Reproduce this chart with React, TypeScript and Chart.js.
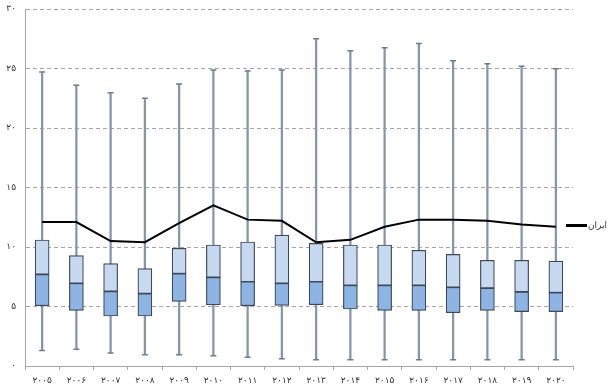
import React, { useEffect, useRef } from "react";
import { Chart, registerables } from "chart.js";

Chart.register(...registerables);

const years = ["2005","2006","2007","2008","2009","2010","2011","2012","2013","2014","2015","2016","2017","2018","2019","2020"];
const whiskerMin = [1.3,1.4,1.1,0.95,0.95,0.87,0.73,0.6,0.53,0.53,0.53,0.53,0.53,0.53,0.53,0.53];
const q1 = [5.07,4.68,4.2,4.2,5.43,5.13,5.07,5.1,5.15,4.79,4.68,4.68,4.48,4.68,4.57,4.57];
const median = [7.7,6.95,6.27,6.08,7.76,7.45,7.08,6.95,7.08,6.78,6.78,6.78,6.61,6.55,6.22,6.16];
const q3 = [10.59,9.27,8.6,8.18,9.89,10.17,10.42,11.0,10.3,10.17,10.17,9.72,9.38,8.88,8.88,8.82];
const whiskerMax = [24.7,23.6,22.97,22.5,23.7,24.87,24.8,24.87,27.5,26.5,26.75,27.1,25.66,25.4,25.18,24.98];
const iran = [12.1,12.1,10.5,10.4,12.0,13.5,12.3,12.2,10.4,10.6,11.7,12.3,12.3,12.2,11.9,11.7];
const iranLabel = "ایران";

const faDigits = "۰۱۲۳۴۵۶۷۸۹";
const toFa = (s: string) => s.replace(/[0-9]/g, (d) => faDigits[+d]);

export default function App() {
  const ref = useRef<HTMLCanvasElement | null>(null);
  useEffect(() => {
    const ctx = ref.current!.getContext("2d")!;
    const font = { family: "'DejaVu Sans', sans-serif", size: 9 };
    const chart = new Chart(ctx, {
      data: {
        labels: years,
        datasets: [
          {
            type: "line",
            label: iranLabel,
            data: iran,
            borderColor: "#000000",
            borderWidth: 2,
            pointRadius: 0,
            tension: 0,
            order: 0,
          } as any,
          {
            type: "line",
            label: "min",
            data: whiskerMin,
            showLine: false,
            pointStyle: "line",
            pointRadius: 3,
            borderColor: "#6f7d90",
            borderWidth: 1.5,
            order: 1,
          } as any,
          {
            type: "line",
            label: "max",
            data: whiskerMax,
            showLine: false,
            pointStyle: "line",
            pointRadius: 3,
            borderColor: "#6f7d90",
            borderWidth: 1.5,
            order: 1,
          } as any,
          {
            type: "bar",
            label: "upper",
            data: q3.map((v, i) => [median[i], v]),
            backgroundColor: "#c6d9f1",
            borderColor: "#3e4856",
            borderWidth: 1.2,
            borderSkipped: false,
            barThickness: 14,
            grouped: false,
            order: 2,
          } as any,
          {
            type: "bar",
            label: "lower",
            data: q1.map((v, i) => [v, median[i]]),
            backgroundColor: "#8eb4e3",
            borderColor: "#3e4856",
            borderWidth: 1.2,
            borderSkipped: false,
            barThickness: 14,
            grouped: false,
            order: 2,
          } as any,
          {
            type: "bar",
            label: "whisker",
            data: whiskerMin.map((v, i) => [v, whiskerMax[i]]),
            backgroundColor: "#8795a8",
            borderWidth: 0,
            barThickness: 1.6,
            grouped: false,
            order: 3,
          } as any,
        ],
      },
      options: {
        animation: false,
        responsive: false,
        maintainAspectRatio: false,
        layout: { padding: { top: 9, right: 37, left: 0, bottom: 0 } },
        plugins: { legend: { display: false }, tooltip: { enabled: false } },
        scales: {
          x: {
            type: "category",
            offset: true,
            grid: {
              offset: true,
              drawOnChartArea: false,
              drawTicks: true,
              tickLength: 4,
              tickColor: "#a6a6a6",
            },
            border: { display: true, color: "#a6a6a6", width: 1 },
            ticks: {
              font,
              color: "#333333",
              padding: 5,
              maxRotation: 0,
              autoSkip: false,
              callback: (_v: any, i: number) => toFa(years[i]),
            },
            afterFit: (s: any) => { s.height = 25; s.paddingLeft = 0; s.paddingRight = 0; },
          },
          y: {
            min: 0,
            max: 30,
            ticks: {
              stepSize: 5,
              font,
              color: "#333333",
              padding: 9,
              callback: (v: any) => toFa(String(v)),
            },
            grid: {
              drawTicks: false,
              color: (c: any) => (c.tick && c.tick.value === 0 ? "rgba(0,0,0,0)" : "#a6a6a6"),
              lineWidth: 1,
            },
            border: { display: true, color: "#a6a6a6", width: 1, dash: [4, 3] },
            afterFit: (s: any) => { s.width = 25; s.paddingTop = 0; s.paddingBottom = 0; },
          },
        },
      } as any,
    });
    return () => chart.destroy();
  }, []);
  return (
    <div style={{ position: "fixed", left: 0, top: 0, width: 610, height: 391, background: "#fff" }}>
      <canvas ref={ref} width={610} height={391} style={{ display: "block" }} />
      <div
        style={{
          position: "absolute",
          left: 566,
          top: 220,
          display: "flex",
          alignItems: "center",
          fontFamily: "'DejaVu Sans', sans-serif",
          fontSize: 9,
          color: "#333",
        }}
      >
        <span style={{ display: "inline-block", width: 21, height: 3, background: "#000" }} />
        <span style={{ marginLeft: 1 }}>{iranLabel}</span>
      </div>
    </div>
  );
}
